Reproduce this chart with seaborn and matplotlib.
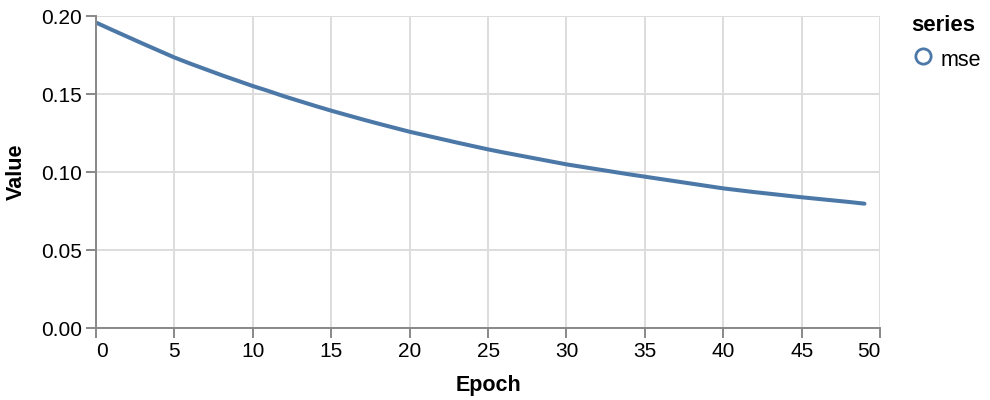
import matplotlib
matplotlib.use("Agg")
import matplotlib.pyplot as plt
import pandas as pd
import seaborn as sns
from matplotlib.lines import Line2D

# --- dados ---
epochs = list(range(50))
mse = [
    0.1958, 0.1912, 0.1867, 0.1822, 0.1778, 0.1734,
    0.1695, 0.1658, 0.1621, 0.1586, 0.1551,
    0.1519, 0.1485, 0.1454, 0.1423, 0.1393,
    0.1365, 0.1337, 0.1310, 0.1284, 0.1258,
    0.1235, 0.1212, 0.1189, 0.1167, 0.1145,
    0.1125, 0.1106, 0.1087, 0.1068, 0.1049,
    0.1033, 0.1017, 0.1001, 0.0985, 0.0970,
    0.0955, 0.0940, 0.0925, 0.0910, 0.0895,
    0.0883, 0.0871, 0.0860, 0.0849, 0.0838,
    0.0828, 0.0818, 0.0808, 0.0797,
]
series_name = "mse"
x_ticks = [0, 5, 10, 15, 20, 25, 30, 35, 40, 45, 50]
y_ticks = [0.00, 0.05, 0.10, 0.15, 0.20]

df = pd.DataFrame({"Epoch": epochs, "Value": mse, "series": series_name})

sns.set_theme(style="white")
plt.rcParams["font.family"] = ["Liberation Sans", "DejaVu Sans"]
plt.rcParams["text.color"] = "black"
plt.rcParams["axes.labelcolor"] = "black"

BLUE = "#4c78a8"
GRID = "#dddddd"
AXIS = "#888888"

fig = plt.figure(figsize=(9.9, 4.0), dpi=100)
ax = fig.add_axes([0.097, 0.18, 0.792, 0.78])

sns.lineplot(data=df, x="Epoch", y="Value", hue="series", palette=[BLUE],
             linewidth=2.9, ax=ax, legend=False)

ax.set_xlim(0, 50)
ax.set_ylim(0, 0.20)
ax.set_xticks(x_ticks)
ax.set_yticks(y_ticks)
ax.set_yticklabels([f"{v:.2f}" for v in y_ticks])

ax.grid(True, color=GRID, linewidth=1.4)
ax.set_axisbelow(True)
for side in ["top", "right"]:
    ax.spines[side].set_visible(False)
for side in ["left", "bottom"]:
    ax.spines[side].set_color(AXIS)
    ax.spines[side].set_linewidth(1.4)
    ax.spines[side].set_zorder(3)

ax.tick_params(axis="both", which="major", length=7.2, width=1.4, color=AXIS,
               labelsize=15, labelcolor="black", pad=3, direction="out",
               left=True, bottom=True)

# rótulos das pontas alinhados à borda (como o labelFlush do vega)
xlabels = ax.get_xticklabels()
xlabels[0].set_horizontalalignment("left")
xlabels[-1].set_horizontalalignment("right")

ax.set_xlabel("Epoch", fontsize=15.5, fontweight="bold", labelpad=10, color="black")
ax.set_ylabel("Value", fontsize=15.5, fontweight="bold", labelpad=10, color="black")

handle = Line2D([], [], linestyle="none", marker="o", markersize=11,
                markerfacecolor="none", markeredgecolor=BLUE, markeredgewidth=2)
leg = fig.legend([handle], [series_name], title="series", loc="upper left",
                 bbox_to_anchor=(0.912, 0.985), frameon=False, fontsize=15.5,
                 title_fontproperties={"weight": "bold", "size": 16},
                 handletextpad=0.25, borderaxespad=0, handlelength=1.1,
                 handleheight=1.4)
leg._legend_box.align = "left"
for t in leg.get_texts():
    t.set_color("black")
leg.get_title().set_color("black")

fig.savefig("out.png", dpi=100, facecolor="white")
